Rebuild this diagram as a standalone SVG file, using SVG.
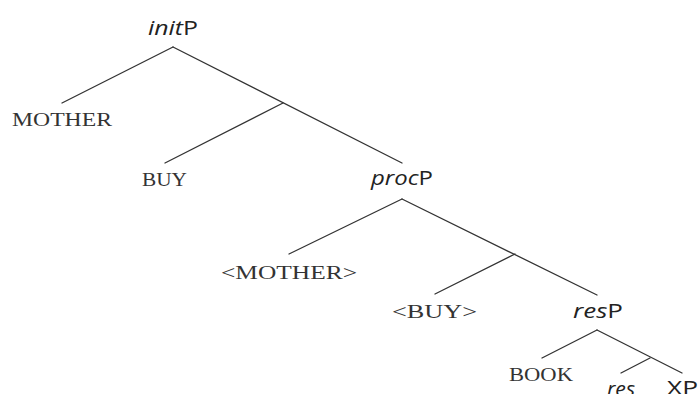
<svg xmlns="http://www.w3.org/2000/svg" width="699" height="394" viewBox="0 0 699 394">
<style>
.e{stroke:#333;stroke-width:1.3;fill:none;stroke-linecap:round}
.s{font-family:"Liberation Serif","DejaVu Serif",serif;font-size:19px;fill:#333}
.p{font-family:"Open Sans","Liberation Sans",sans-serif;font-size:20px;fill:#222}
.i{font-style:italic}
</style>
<rect width="699" height="394" fill="#fff"/>
<g id="connectors">
<line class="e" x1="173" y1="47" x2="62" y2="103"/>
<line class="e" x1="173" y1="47" x2="402" y2="163"/>
<line class="e" x1="283" y1="103" x2="165" y2="163"/>
<line class="e" x1="402" y1="199" x2="289" y2="254"/>
<line class="e" x1="402" y1="199" x2="597" y2="295"/>
<line class="e" x1="515" y1="254" x2="435" y2="294"/>
<line class="e" x1="597" y1="330" x2="542" y2="358"/>
<line class="e" x1="597" y1="330" x2="682" y2="373"/>
<line class="e" x1="650" y1="358" x2="621" y2="373"/>
</g>
<g id="initP"><text class="p" x="148" y="35" textLength="50" lengthAdjust="spacingAndGlyphs"><tspan class="i">init</tspan>P</text></g>
<g id="MOTHER"><text class="s" x="12" y="126" textLength="100" lengthAdjust="spacingAndGlyphs">MOTHER</text></g>
<g id="BUY"><text class="s" x="142" y="186" textLength="45" lengthAdjust="spacingAndGlyphs">BUY</text></g>
<g id="procP"><text class="p" x="371" y="185" textLength="62" lengthAdjust="spacingAndGlyphs"><tspan class="i">proc</tspan>P</text></g>
<g id="MOTHER2"><text class="s" x="221" y="279" textLength="136" lengthAdjust="spacingAndGlyphs">&lt;MOTHER&gt;</text></g>
<g id="BUY2"><text class="s" x="392" y="318" textLength="85" lengthAdjust="spacingAndGlyphs">&lt;BUY&gt;</text></g>
<g id="resP"><text class="p" x="573" y="318" textLength="50" lengthAdjust="spacingAndGlyphs"><tspan class="i">res</tspan>P</text></g>
<g id="BOOK"><text class="s" x="509" y="381" textLength="64" lengthAdjust="spacingAndGlyphs">BOOK</text></g>
<g id="res"><text class="p i" x="607" y="396" textLength="28" lengthAdjust="spacingAndGlyphs">res</text></g>
<g id="XP"><text class="p" x="667" y="395" textLength="31" lengthAdjust="spacingAndGlyphs">XP</text></g>
</svg>
